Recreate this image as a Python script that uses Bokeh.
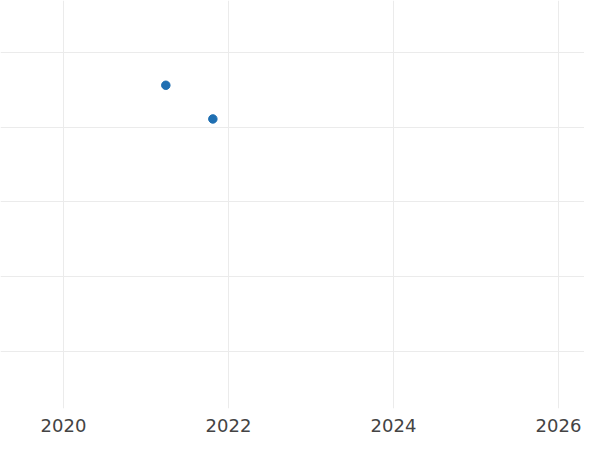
from bokeh.plotting import figure
from bokeh.models import Range1d, FixedTicker, ColumnDataSource
from bokeh.embed import file_html
from bokeh.resources import INLINE

# data (decimal years, values)
years = [2021.24, 2021.81]
values = [4.56, 4.11]
x_ticks = [2020, 2022, 2024, 2026]
x_tick_labels = {2020: "2020", 2022: "2022", 2024: "2024", 2026: "2026"}
y_grid = [1, 2, 3, 4, 5]

src = ColumnDataSource(dict(x=years, y=values))

p = figure(width=584, height=434, output_backend="svg", toolbar_location=None,
           x_range=Range1d(2019.236, 2026.315), y_range=Range1d(0.24, 5.693),
           min_border=0, min_border_left=0, min_border_right=0,
           min_border_top=0, min_border_bottom=0)
p.outline_line_color = None
p.background_fill_color = "white"
p.border_fill_color = "white"

p.scatter("x", "y", source=src, size=8.5, fill_color="#1f6fb2", line_color="#1f6fb2")

p.yaxis.visible = False
p.xaxis.ticker = FixedTicker(ticks=x_ticks)
p.xaxis.major_label_overrides = x_tick_labels
p.xaxis.axis_line_color = None
p.xaxis.major_tick_line_color = None
p.xaxis.minor_tick_line_color = None
p.xaxis.major_label_text_font = "DejaVu Sans"
p.xaxis.major_label_text_font_size = "18px"
p.xaxis.major_label_text_color = "#444444"
p.xaxis.major_label_standoff = 4

p.xgrid.ticker = FixedTicker(ticks=x_ticks)
p.ygrid.ticker = FixedTicker(ticks=y_grid)
p.xgrid.grid_line_color = "#ebebeb"
p.ygrid.grid_line_color = "#ebebeb"

open("out.html", "w").write(file_html(p, INLINE))
